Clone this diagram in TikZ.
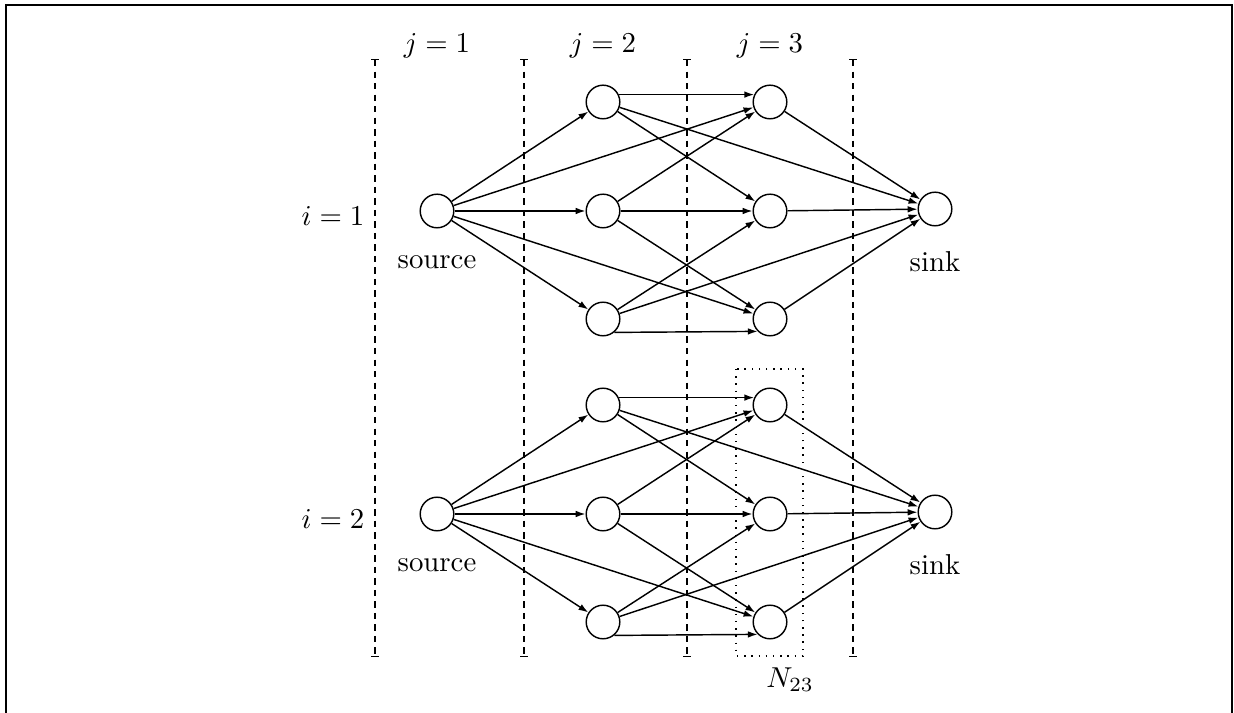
\documentclass[tikz,border=0pt]{standalone}
\usetikzlibrary{arrows.meta,positioning}

\begin{document}
\begin{tikzpicture}[x=0.0122cm,y=-0.0122cm,line width=0.5pt,
    vtx/.style={circle,draw,inner sep=0pt,minimum size=0.41cm},
    arr/.style={-{Latex[length=3.4pt,width=2.3pt]}},
    sep/.style={dash pattern=on 2.2pt off 1.8pt,{Bar[width=2.5pt]}-{Bar[width=2.5pt]}}]
    \useasboundingbox (0,0) rectangle (1234,713);
    \draw[line width=0.8pt] (6,713) -- (6,5) -- (1232,5) -- (1232,713);
    % stage separators and labels
    \foreach \x in {375,524,687,853}
      \draw[sep] (\x,59) -- (\x,657);
    \node (j1) at (437,46) {$j=1$};
    \node (j2) at (603,46) {$j=2$};
    \node (j3) at (770,46) {$j=3$};
    % the two networks
    \foreach \b/\dy in {1/0,2/303}{
      \node (i\b) at (333,216+\dy) {$i=\b$};
      \node[vtx] (src\b) at (437,211+\dy) {};
      \node[vtx] (snk\b) at (935,209+\dy) {};
      \node (srcl\b) at (437,262+\dy) {source};
      \node (snkl\b) at (935,262+\dy) {sink};
      \foreach \k/\y in {1/102,2/211,3/319}{
        \node[vtx] (a\b\k) at (603,\y+\dy) {};
        \node[vtx] (b\b\k) at (770,\y+\dy) {};
      }
      \foreach \k in {1,2,3}
        \draw[arr] (src\b) -- (a\b\k);
      \draw[arr] (src\b) -- (b\b1);
      \draw[arr] (src\b) -- (b\b3);
      \draw[arr] (a\b1.25) -- (b\b1.155);
      \draw[arr] (a\b1) -- (b\b2);
      \draw[arr] (a\b1) -- (snk\b);
      \foreach \k in {1,2,3}
        \draw[arr] (a\b2) -- (b\b\k);
      \draw[arr] (a\b3) -- (b\b2);
      \draw[arr] (a\b3) -- (snk\b);
      \draw[arr] (a\b3.-50) -- (b\b3.-135);
      \foreach \k in {1,2,3}
        \draw[arr] (b\b\k) -- (snk\b);
    }
    % the set N_23
    \draw[dotted] (736,369) rectangle (803,656);
    \node (n23) at (790,680) {$N_{23}$};
\end{tikzpicture}
\end{document}
